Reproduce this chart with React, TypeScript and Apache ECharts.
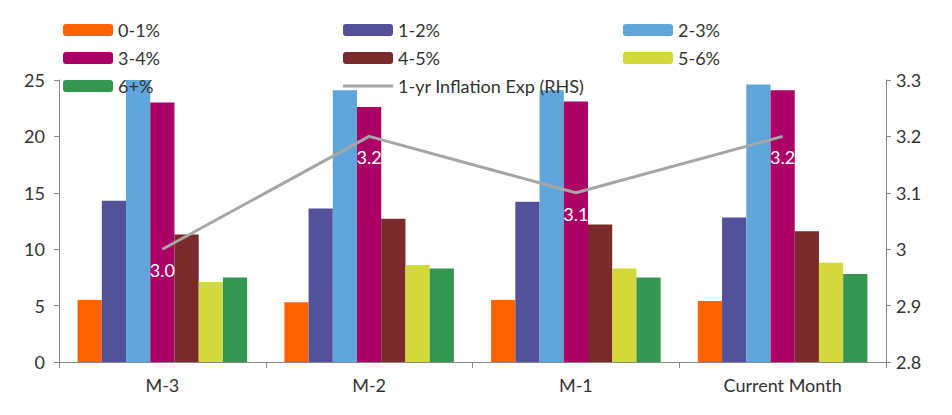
import { useEffect, useRef } from "react";
import * as echarts from "echarts";

const categories = ["M-3", "M-2", "M-1", "Current Month"];
const bucketNames = ["0-1%", "1-2%", "2-3%", "3-4%", "4-5%", "5-6%", "6+%"];
const bucketColors = ["#ff6200", "#525199", "#60a6da", "#ab0066", "#7a2a2b", "#d1d93d", "#349651"];
const bucketValues = [
  [5.5, 5.3, 5.5, 5.4],
  [14.3, 13.6, 14.2, 12.8],
  [25.0, 24.1, 24.1, 24.6],
  [23.0, 22.6, 23.1, 24.1],
  [11.3, 12.7, 12.2, 11.6],
  [7.1, 8.6, 8.3, 8.8],
  [7.5, 8.3, 7.5, 7.8],
];
const inflationName = "1-yr Inflation Exp (RHS)";
const inflationValues = [3.0, 3.2, 3.1, 3.2];

export default function App() {
  const chartRef = useRef<HTMLDivElement>(null);

  useEffect(() => {
    if (!chartRef.current) return;
    const chart = echarts.init(chartRef.current, null, { renderer: "svg" });
    const font = "Lato, 'Noto Sans', sans-serif";
    const legendBase = {
      orient: "vertical" as const,
      top: 8,
      itemWidth: 50,
      itemHeight: 12,
      itemGap: 10,
      textStyle: { fontSize: 18, color: "#333", fontFamily: font },
    };
    const lineIcon = "path://M0 0H50V3H0Z";

    chart.setOption({
      animation: false,
      textStyle: { fontFamily: font },
      legend: [
        { ...legendBase, left: 50, data: ["0-1%", "3-4%", "6+%"] },
        {
          ...legendBase,
          left: 330,
          data: ["1-2%", "4-5%", { name: inflationName, icon: lineIcon }],
        },
        { ...legendBase, left: 610, data: ["2-3%", "5-6%"] },
      ],
      grid: { left: 51, right: 58, top: 72, bottom: 45 },
      xAxis: {
        type: "category",
        data: categories,
        axisLine: { lineStyle: { color: "#888" } },
        axisTick: { show: true, length: 6, lineStyle: { color: "#888" } },
        axisLabel: { fontSize: 18, color: "#333", margin: 14 },
      },
      yAxis: [
        {
          type: "value",
          min: 0,
          max: 25,
          interval: 5,
          axisLine: { show: true, lineStyle: { color: "#888" } },
          axisTick: { show: true, length: 5, lineStyle: { color: "#888" } },
          splitLine: { show: false },
          axisLabel: { fontSize: 18, color: "#333", margin: 14 },
        },
        {
          type: "value",
          min: 2.8,
          max: 3.3,
          interval: 0.1,
          axisLine: { show: true, lineStyle: { color: "#888" } },
          axisTick: { show: true, length: 5, lineStyle: { color: "#888" } },
          splitLine: { show: false },
          axisLabel: {
            fontSize: 18,
            color: "#333",
            margin: 10,
            formatter: (v: number) => String(Math.round(v * 10) / 10),
          },
        },
      ],
      series: [
        ...bucketNames.map((name, i) => ({
          name,
          type: "bar",
          data: bucketValues[i],
          barGap: "0%",
          barCategoryGap: "18%",
          itemStyle: { color: bucketColors[i] },
        })),
        {
          name: inflationName,
          type: "line",
          yAxisIndex: 1,
          data: inflationValues,
          symbol: "circle",
          symbolSize: 0,
          showSymbol: true,
          z: 5,
          lineStyle: { color: "#a6a6a6", width: 3 },
          itemStyle: { color: "#a6a6a6" },
          label: {
            show: true,
            position: "bottom",
            distance: 12,
            offset: [0, 0],
            color: "#fff",
            fontSize: 18,
            formatter: (p: any) => p.value.toFixed(1),
          },
          labelLine: { show: false },
        },
      ],
    });

    return () => chart.dispose();
  }, []);

  return <div ref={chartRef} style={{ width: 936, height: 399 }} />;
}
